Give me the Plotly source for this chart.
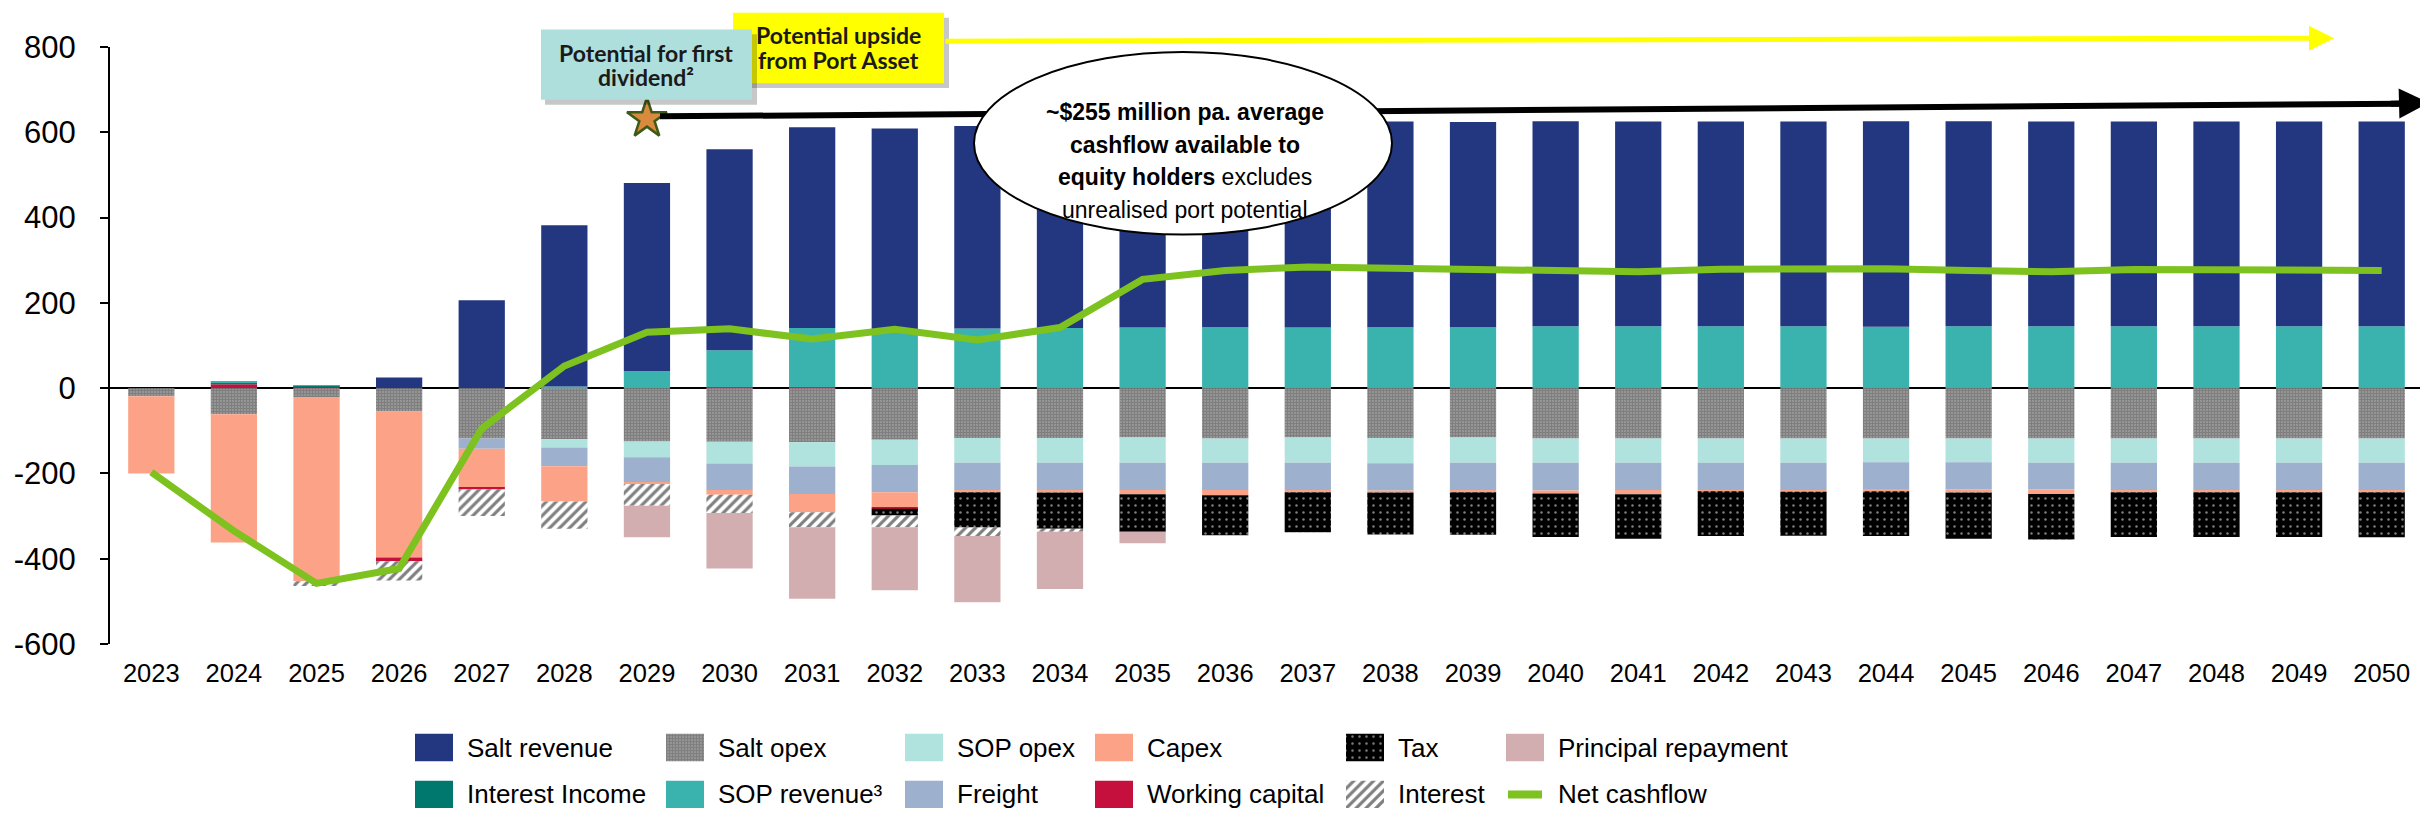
import plotly.graph_objects as go

# ---------------- DATA ----------------
years = [str(y) for y in range(2023, 2051)]

salt_revenue = [0, 0, 0, 25, 206, 378, 441, 471, 471, 471, 475, 476, 478, 481, 483, 482,
                481, 481, 480, 480, 480, 482, 481, 480, 480, 480, 480, 480]
sop_revenue = [0, 2, 2, 0, 0, 4, 40, 87, 139, 138, 140, 141, 142, 143, 142, 143,
               143, 145, 145, 145, 145, 144, 145, 145, 145, 145, 145, 145]
interest_income = [0, 5, 1, 0, 0, 0, 0, 0, 0, 0, 0, 0, 0, 0, 0, 0,
                   0, 0, 0, 0, 0, 0, 0, 0, 0, 0, 0, 0]
working_capital = [0, 9, 4, -9, -6, 0, 0, 2, 2, -4, 0, 0, 0, 0, 0, 0,
                   0, 0, 0, 0, 0, 0, 0, 0, 0, 0, 0, 0]
salt_opex = [-19, -61, -21, -55, -118, -120, -125, -126, -127, -121, -117, -117, -116, -118, -116, -117,
             -116, -118, -118, -118, -118, -118, -118, -118, -118, -118, -118, -118]
sop_opex = [0, 0, 0, 0, 0, -19, -37, -51, -57, -59, -58, -58, -59, -57, -59, -59,
            -59, -57, -57, -57, -57, -56, -56, -57, -57, -57, -57, -57]
freight = [0, 0, 0, 0, -24, -44, -58, -62, -64, -64, -64, -64, -64, -64, -64, -64,
           -64, -65, -64, -64, -64, -64, -63, -62, -64, -64, -64, -64]
capex = [-181, -301, -432, -342, -90, -83, -5, -11, -43, -35, -5, -6, -10, -12, -5, -5,
         -5, -7, -10, -3, -4, -4, -8, -11, -5, -5, -5, -5]
tax = [0, 0, 0, 0, 0, 0, 0, 0, 0, -16, -83, -85, -88, -94, -94, -98,
       -100, -102, -104, -105, -103, -105, -108, -107, -105, -105, -105, -106]
interest = [0, 0, -11, -45, -62, -64, -51, -43, -35, -27, -20, -7, 0, 0, 0, 0,
            0, 0, 0, 0, 0, 0, 0, 0, 0, 0, 0, 0]
principal_repayment = [0, 0, 0, 0, 0, 0, -74, -130, -168, -148, -155, -134, -27, 0, 0, 0,
                       0, 0, 0, 0, 0, 0, 0, 0, 0, 0, 0, 0]
net_cashflow = [-197, -335, -458, -423, -95, 52, 131, 139, 115, 138, 113, 142, 255, 276, 284, 281,
                280, 276, 273, 279, 280, 280, 276, 273, 278, 278, 277, 276]

first_dividend_year = "2029"
first_dividend_value = 632

y_ticks = [-600, -400, -200, 0, 200, 400, 600, 800]

legend_columns = [
    ("Salt revenue", "Interest Income"),
    ("Salt opex", "SOP revenue³"),
    ("SOP opex", "Freight"),
    ("Capex", "Working capital"),
    ("Tax", "Interest"),
    ("Principal repayment", "Net cashflow"),
]

# ---------------- STYLE ----------------
W, H = 2428, 823
ML, MR, MT, MB = 102, 13, 39, 0
PW, PH = W - ML - MR, H - MT - MB
FONT = "Liberation Sans, Arial, sans-serif"
BOX_FONT = "Lato, sans-serif"
NET_GREEN = "#7DC21E"


def pxx(x):
    return (x - ML) / PW


def pxy(y):
    return (H - MB - y) / PH


STYLE = {
    "Salt revenue": dict(color="#233780"),
    "Interest Income": dict(color="#00786D"),
    "SOP revenue³": dict(color="#3AB3AF"),
    "Salt opex": dict(color="black", pattern=dict(shape=".", size=3, solidity=0.84,
                                                 fgcolor="black", bgcolor="white")),
    "SOP opex": dict(color="#B0E2DE"),
    "Freight": dict(color="#9DB0CD"),
    "Capex": dict(color="#FCA387"),
    "Working capital": dict(color="#C50F3C"),
    "Tax": dict(color="black", pattern=dict(shape=".", size=7, solidity=0.1,
                                           fgcolor="white", bgcolor="black")),
    "Interest": dict(color="black", pattern=dict(shape="/", size=7, solidity=0.45,
                                                fgcolor="black", bgcolor="white")),
    "Principal repayment": dict(color="#D3AEB1"),
}

fig = go.Figure()

wc_pos = [max(v, 0) for v in working_capital]
wc_neg = [min(v, 0) for v in working_capital]

series = [
    ("Working capital", wc_pos),
    ("Interest Income", interest_income),
    ("SOP revenue³", sop_revenue),
    ("Salt revenue", salt_revenue),
    ("Salt opex", salt_opex),
    ("SOP opex", sop_opex),
    ("Freight", freight),
    ("Capex", capex),
    ("Working capital", wc_neg),
    ("Tax", tax),
    ("Interest", interest),
    ("Principal repayment", principal_repayment),
]
for name, vals in series:
    st = STYLE[name]
    fig.add_trace(go.Bar(x=years, y=vals, name=name, showlegend=False,
                         marker=dict(line=dict(width=0), **st), hoverinfo="skip"))

fig.add_trace(go.Scatter(x=years, y=net_cashflow, mode="lines", name="Net cashflow",
                         line=dict(color=NET_GREEN, width=7), showlegend=False, hoverinfo="skip"))

fig.add_trace(go.Scatter(x=[first_dividend_year], y=[first_dividend_value], mode="markers",
                         marker=dict(symbol="star", size=30, color="#DA8A3C",
                                     line=dict(color="#3D5A18", width=2.5)),
                         showlegend=False, cliponaxis=False, hoverinfo="skip"))

# ---------------- LEGEND (drawn in a helper subplot) ----------------
col_left = [407, 658, 897, 1087, 1338, 1498]
row_base = [53, 5]     # in legend-axis units (823 - pixel y)
sw_w, sw_h = 38, 28
leg_ann = []
for ci, col in enumerate(legend_columns):
    for ri, name in enumerate(col):
        xl = col_left[ci]
        yc = row_base[ri] + sw_h / 2
        if name == "Net cashflow":
            fig.add_trace(go.Scatter(x=[xl + 2, xl + sw_w - 2], y=[yc, yc], mode="lines",
                                     line=dict(color=NET_GREEN, width=8),
                                     xaxis="x2", yaxis="y2", showlegend=False, hoverinfo="skip"))
        else:
            fig.add_trace(go.Bar(x=[xl + sw_w / 2], y=[sw_h], base=[row_base[ri]], width=[sw_w],
                                 marker=dict(line=dict(width=0), **STYLE[name]),
                                 xaxis="x2", yaxis="y2", showlegend=False, hoverinfo="skip"))
        leg_ann.append(dict(x=xl + 50, y=yc, xref="x2", yref="y2", text=name, showarrow=False,
                            xanchor="left", yanchor="middle",
                            font=dict(family=FONT, size=26, color="black")))

# ---------------- SHAPES ----------------
shapes = []
# yellow box + shadow
shapes.append(dict(type="rect", xref="paper", yref="paper", x0=pxx(729), x1=pxx(941),
                   y0=pxy(81), y1=pxy(9), fillcolor="rgba(0,0,0,0.22)", line=dict(width=0)))
shapes.append(dict(type="rect", xref="paper", yref="paper", x0=pxx(725), x1=pxx(936),
                   y0=pxy(76), y1=pxy(4), fillcolor="#FFFF00", line=dict(width=0)))
# teal box + shadow
shapes.append(dict(type="rect", xref="paper", yref="paper", x0=pxx(537), x1=pxx(749),
                   y0=pxy(98), y1=pxy(26), fillcolor="rgba(0,0,0,0.22)", line=dict(width=0)))
shapes.append(dict(type="rect", xref="paper", yref="paper", x0=pxx(533), x1=pxx(744),
                   y0=pxy(93), y1=pxy(21), fillcolor="#AEDFDC", line=dict(width=0)))
# black line (under the ellipse)
shapes.append(dict(type="line", xref="paper", yref="paper", x0=pxx(652), y0=pxy(110),
                   x1=pxx(2395), y1=pxy(97), line=dict(color="black", width=6)))
# ellipse
shapes.append(dict(type="circle", xref="paper", yref="paper", x0=pxx(966), x1=pxx(1384),
                   y0=pxy(231), y1=pxy(44), fillcolor="white", line=dict(color="black", width=2)))

# ---------------- ANNOTATIONS ----------------
anns = []
anns.append(dict(x=pxx(2326), y=pxy(30), xref="paper", yref="paper", ax=936 - 2326, ay=3,
                 axref="pixel", ayref="pixel", text="", showarrow=True, arrowhead=2,
                 arrowsize=1, arrowwidth=5, arrowcolor="#FFFF00", standoff=0, startstandoff=0))
anns.append(dict(x=pxx(2421), y=pxy(96), xref="paper", yref="paper", ax=-40, ay=1,
                 axref="pixel", ayref="pixel", text="", showarrow=True, arrowhead=2,
                 arrowsize=1, arrowwidth=6, arrowcolor="black", standoff=0, startstandoff=0))
box_lines = [
    ("<b>Potential for first</b>", 638, 45),
    ("<b>dividend²</b>", 638, 70),
    ("<b>Potential upside</b>", 830, 27),
    ("<b>from Port Asset</b>", 830, 52),
]
for txt, xx, yy in box_lines:
    anns.append(dict(x=pxx(xx), y=pxy(yy), xref="paper", yref="paper", showarrow=False,
                     xanchor="center", yanchor="middle", text=txt,
                     font=dict(family=BOX_FONT, size=23, color="#1a1a1a")))
ell_lines = [
    ("<b>~$255 million pa. average</b>", 106),
    ("<b>cashflow available to</b>", 139),
    ("<b>equity holders</b> excludes", 172),
    ("unrealised port potential", 206),
]
for txt, yy in ell_lines:
    anns.append(dict(x=pxx(1177), y=pxy(yy), xref="paper", yref="paper", showarrow=False,
                     text=txt, xanchor="center", yanchor="middle",
                     font=dict(family=FONT, size=23, color="black")))
anns.extend(leg_ann)

fig.update_layout(
    width=W, height=H,
    margin=dict(l=ML, r=MR, t=MT, b=MB),
    paper_bgcolor="white", plot_bgcolor="white",
    barmode="relative", bargap=0.44,
    showlegend=False,
    font=dict(family=FONT, color="black"),
    shapes=shapes, annotations=anns,
    xaxis=dict(type="category", categoryorder="array", categoryarray=years,
               range=[-0.5, len(years) - 0.5], domain=[0, 1], anchor="y",
               showline=False, showgrid=False, zeroline=False, ticks="",
               tickfont=dict(family=FONT, size=25.5, color="black"), ticklabelstandoff=12),
    yaxis=dict(range=[-600, 800], domain=[pxy(650), 1], anchor="x",
               tickvals=y_ticks, ticktext=[str(v) for v in y_ticks],
               showline=True, linecolor="black", linewidth=2,
               ticks="outside", ticklen=8, tickwidth=2, tickcolor="black",
               showgrid=False, zeroline=True, zerolinecolor="black", zerolinewidth=2,
               tickfont=dict(family=FONT, size=31, color="black"), ticklabelstandoff=18),
    xaxis2=dict(domain=[0, 1], range=[ML, W - MR], anchor="y2", visible=False, fixedrange=True),
    yaxis2=dict(domain=[0, pxy(705.4)], range=[0, 823 - 705.4], anchor="x2", visible=False,
                fixedrange=True),
)

fig.write_html("out.html")
